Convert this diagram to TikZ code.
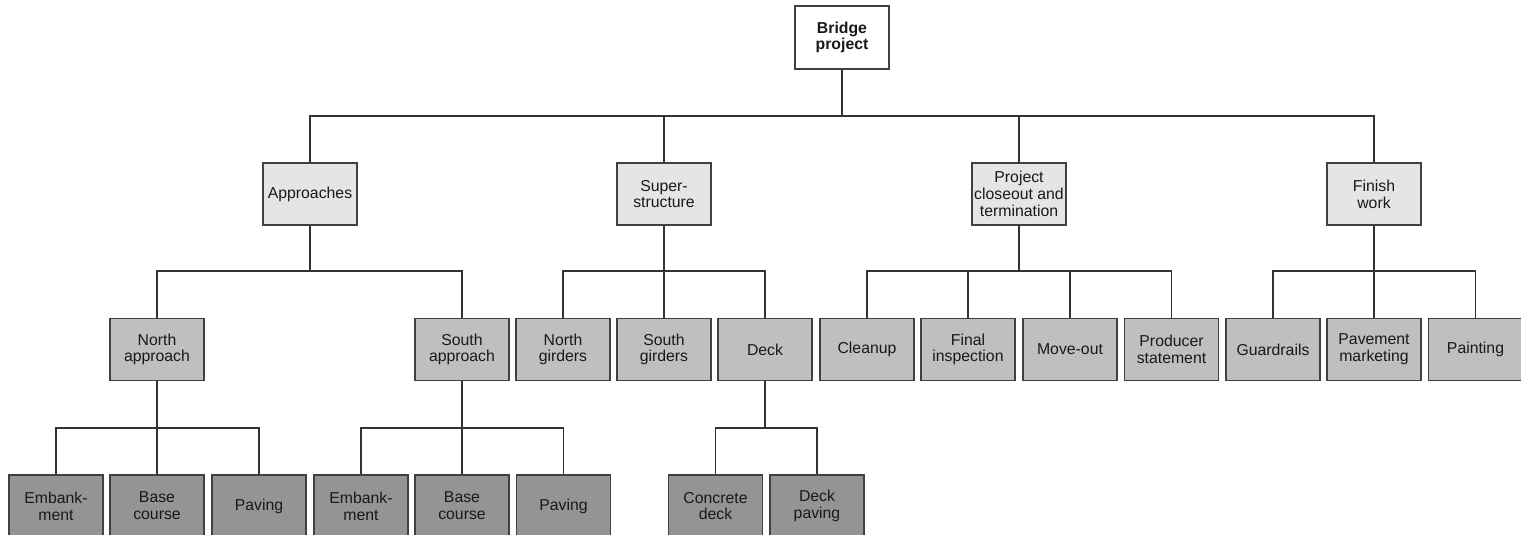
\documentclass[tikz,border=0pt]{standalone}
\usepackage{fontspec}
\setmainfont{Liberation Sans}
\begin{document}
\begin{tikzpicture}[x=1pt,y=-1pt,
  box/.style={draw=black!75, line width=1.3pt, minimum width=94pt, minimum height=62pt,
    inner sep=0pt, align=center, font=\fontsize{15.8}{16.8}\selectfont, text=black!90},
  rootbox/.style={box, fill=white, minimum height=63pt, font=\fontsize{15.8}{16.8}\selectfont\bfseries},
  lvlone/.style={box, fill=black!10},
  lvltwo/.style={box, fill=black!25},
  lvlthree/.style={box, fill=black!42},
  link/.style={draw=black!80, line width=1.1pt}]
\useasboundingbox (0,0) rectangle (1521,535);
\begin{scope}
\clip (0,0) rectangle (1521,535);
% bus levels
\coordinate (b1) at (0,116);
\coordinate (b2) at (0,271);
\coordinate (b3) at (0,428);

% root
\node[rootbox] (root) at (842,37.5) {Bridge\\project};

% first level
\node[lvlone] (app) at (310,194) {Approaches};
\node[lvlone] (sup) at (664,194) {Super-\\structure};
\node[lvlone] (clo) at (1019,194) {Project\\closeout and\\termination};
\node[lvlone] (fin) at (1374,194) {Finish\\work};

% second level
\node[lvltwo] (nap) at (157,349.5) {North\\approach};
\node[lvltwo] (sap) at (462,349.5) {South\\approach};
\node[lvltwo] (ngi) at (563,349.5) {North\\girders};
\node[lvltwo] (sgi) at (664,349.5) {South\\girders};
\node[lvltwo] (dek) at (765,349.5) {Deck};
\node[lvltwo] (cln) at (867,349.5) {Cleanup};
\node[lvltwo] (fni) at (968,349.5) {Final\\inspection};
\node[lvltwo] (mov) at (1070,349.5) {Move-out};
\node[lvltwo] (prs) at (1171.5,349.5) {Producer\\statement};
\node[lvltwo] (grd) at (1273,349.5) {Guardrails};
\node[lvltwo] (pvm) at (1374,349.5) {Pavement\\marketing};
\node[lvltwo] (pnt) at (1475.5,349.5) {Painting};

% third level
\node[lvlthree] (ne) at (56,506) {Embank-\\ment};
\node[lvlthree] (nb) at (157,506) {Base\\course};
\node[lvlthree] (np) at (259,506) {Paving};
\node[lvlthree] (se) at (361,506) {Embank-\\ment};
\node[lvlthree] (sb) at (462,506) {Base\\course};
\node[lvlthree] (sp) at (563.5,506) {Paving};
\node[lvlthree] (cd) at (715.5,506) {Concrete\\deck};
\node[lvlthree] (dp) at (817,506) {Deck\\paving};

% connectors
\foreach \c in {app,sup,clo,fin}
  \draw[link] (root.south) |- (\c.north |- b1) -- (\c.north);
\foreach \c in {nap,sap}
  \draw[link] (app.south) |- (\c.north |- b2) -- (\c.north);
\foreach \c in {ngi,sgi,dek}
  \draw[link] (sup.south) |- (\c.north |- b2) -- (\c.north);
\foreach \c in {cln,fni,mov,prs}
  \draw[link] (clo.south) |- (\c.north |- b2) -- (\c.north);
\foreach \c in {grd,pvm,pnt}
  \draw[link] (fin.south) |- (\c.north |- b2) -- (\c.north);
\foreach \c in {ne,nb,np}
  \draw[link] (nap.south) |- (\c.north |- b3) -- (\c.north);
\foreach \c in {se,sb,sp}
  \draw[link] (sap.south) |- (\c.north |- b3) -- (\c.north);
\foreach \c in {cd,dp}
  \draw[link] (dek.south) |- (\c.north |- b3) -- (\c.north);
\end{scope}
\end{tikzpicture}
\end{document}
